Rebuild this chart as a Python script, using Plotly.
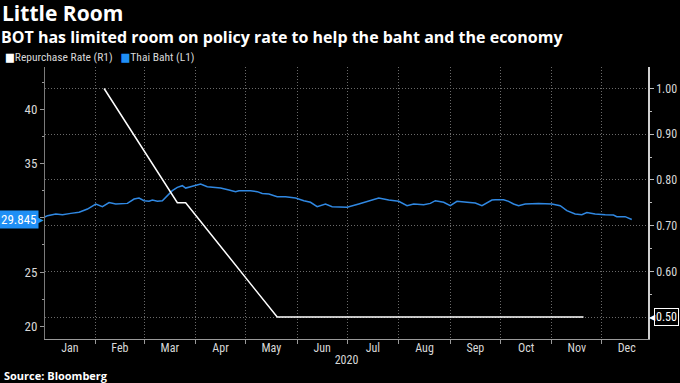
import plotly.graph_objects as go

# ---------------- data ----------------
baht_dates = [
    "2020-01-01", "2020-01-03", "2020-01-08", "2020-01-12", "2020-01-17", "2020-01-22",
    "2020-01-27", "2020-02-01", "2020-02-05", "2020-02-09", "2020-02-13", "2020-02-20",
    "2020-02-24", "2020-02-27", "2020-03-01", "2020-03-04", "2020-03-06", "2020-03-09",
    "2020-03-12", "2020-03-15", "2020-03-18", "2020-03-21", "2020-03-24", "2020-03-26",
    "2020-03-29", "2020-03-31", "2020-04-04", "2020-04-08", "2020-04-12", "2020-04-16",
    "2020-04-21", "2020-04-25", "2020-04-27", "2020-05-04", "2020-05-08", "2020-05-11",
    "2020-05-15", "2020-05-20", "2020-05-25", "2020-05-31", "2020-06-05", "2020-06-09",
    "2020-06-13", "2020-06-18", "2020-06-22", "2020-06-28", "2020-07-01", "2020-07-08",
    "2020-07-14", "2020-07-20", "2020-07-26", "2020-08-01", "2020-08-06", "2020-08-10",
    "2020-08-16", "2020-08-20", "2020-08-23", "2020-08-28", "2020-09-01", "2020-09-05",
    "2020-09-11", "2020-09-16", "2020-09-20", "2020-09-26", "2020-09-28", "2020-10-03",
    "2020-10-06", "2020-10-09", "2020-10-12", "2020-10-16", "2020-10-24", "2020-11-01",
    "2020-11-06", "2020-11-10", "2020-11-15", "2020-11-19", "2020-11-22", "2020-11-27",
    "2020-12-03", "2020-12-08", "2020-12-10", "2020-12-15", "2020-12-19",
]
baht_values = [
    30.05, 30.20, 30.35, 30.29, 30.41, 30.51,
    30.81, 31.27, 31.03, 31.40, 31.27, 31.33,
    31.73, 31.82, 31.58, 31.52, 31.64, 31.52,
    31.58, 32.04, 32.50, 32.81, 32.96, 32.74,
    32.87, 32.96, 33.11, 32.87, 32.81, 32.74,
    32.56, 32.41, 32.50, 32.50, 32.41, 32.25,
    32.19, 31.95, 31.95, 31.82, 31.58, 31.43,
    31.03, 31.27, 31.03, 30.97, 30.97, 31.27,
    31.52, 31.82, 31.64, 31.52, 31.12, 31.27,
    31.21, 31.33, 31.58, 31.43, 31.12, 31.52,
    31.43, 31.36, 31.12, 31.64, 31.67, 31.67,
    31.52, 31.27, 31.12, 31.27, 31.33, 31.27,
    31.12, 30.66, 30.35, 30.29, 30.48, 30.35,
    30.29, 30.26, 30.11, 30.11, 29.845,
]
repo_dates = ["2020-02-06", "2020-03-21", "2020-03-26", "2020-05-20", "2020-11-20"]
repo_values = [1.00, 0.75, 0.75, 0.50, 0.50]

left_tickvals = [20, 25, 30, 35, 40]
left_ticktext = ["20", "25", "", "35", "40"]
right_tickvals = [0.5, 0.6, 0.7, 0.8, 0.9, 1.0]
right_ticktext = ["", "0.60", "0.70", "0.80", "0.90", "1.00"]

last_baht = baht_values[-1]
last_repo = repo_values[-1]

# ---------------- style ----------------
BG = "#000000"
BLUE_LINE = "#3088e2"
BLUE_LABEL = "#1f8ff5"
TXT = "#d8d8d8"
GRID = "#6a6a6a"
FONT = "Roboto Condensed, DejaVu Sans Condensed, Roboto, sans-serif"
HEAD = "Open Sans, Roboto, sans-serif"

fig = go.Figure()
fig.add_trace(go.Scatter(
    x=baht_dates, y=baht_values, mode="lines", yaxis="y",
    line=dict(color=BLUE_LINE, width=1.5), showlegend=False, hoverinfo="skip",
))
fig.add_trace(go.Scatter(
    x=repo_dates, y=repo_values, mode="lines", yaxis="y2",
    line=dict(color="#ffffff", width=1.5), showlegend=False, hoverinfo="skip",
))

fig.update_layout(
    width=680, height=383,
    paper_bgcolor=BG, plot_bgcolor=BG,
    margin=dict(l=45, r=32, t=67, b=44, autoexpand=False),
    font=dict(family=FONT, color=TXT, size=12),
    xaxis=dict(
        range=["2020-01-01 12:00", "2020-12-28 18:00"],
        type="date", tick0="2020-01-01", dtick="M1", tickformat="%b",
        ticklabelmode="period", ticklabelstandoff=-6,
        showgrid=True, gridcolor=GRID, griddash="1px,2px", gridwidth=1,
        showline=True, linecolor="#9a9a9a", linewidth=1,
        ticks="outside", ticklen=4, tickcolor="#9a9a9a",
        tickfont=dict(size=12, color=TXT),
        title=dict(text="2020", font=dict(size=12, color=TXT), standoff=1),
        zeroline=False, automargin=False,
    ),
    yaxis=dict(
        range=[18.84, 43.89],
        tickvals=left_tickvals, ticktext=left_ticktext,
        showgrid=False, zeroline=False,
        showline=True, linecolor="#7a7a7a", linewidth=1,
        ticks="outside", ticklen=4, tickcolor="#9a9a9a",
        tickfont=dict(size=13, color=TXT), automargin=False,
        minor=dict(tick0=20, dtick=2.5, ticks="outside", ticklen=2, tickcolor="#9a9a9a", showgrid=False),
    ),
    yaxis2=dict(
        range=[0.452, 1.047], overlaying="y", side="right",
        tickvals=right_tickvals, ticktext=right_ticktext,
        showgrid=True, gridcolor=GRID, griddash="1px,2px", gridwidth=1,
        zeroline=False,
        showline=True, linecolor="#d0d0d0", linewidth=1.5,
        ticks="outside", ticklen=4, tickcolor="#bbbbbb",
        tickfont=dict(size=12, color=TXT), automargin=False,
        minor=dict(tick0=0.5, dtick=0.05, ticks="outside", ticklen=2, tickcolor="#bbbbbb", showgrid=False),
    ),
)

ann = []
# title & subtitle
ann.append(dict(text="<b>Little Room</b>", xref="paper", yref="paper", x=0, xshift=-44,
                y=1.1967, xanchor="left", yanchor="middle", showarrow=False, borderpad=0,
                font=dict(family=HEAD, size=21, color="#ffffff")))
ann.append(dict(text="<b>BOT has limited room on policy rate to help the baht and the economy</b>",
                xref="paper", yref="paper", x=0, xshift=-45, y=1.1121, xanchor="left", yanchor="middle",
                showarrow=False, borderpad=0, font=dict(family=HEAD, size=16, color="#ffffff")))
# legend
ann.append(dict(text=("<span style='color:#ffffff'>■</span>Repurchase Rate (R1)   "
                      f"<span style='color:{BLUE_LABEL}'>■</span>Thai Baht (L1)"),
                xref="paper", yref="paper", x=0, xshift=-42, y=1.037, xanchor="left", yanchor="middle",
                showarrow=False, font=dict(size=11.5, color=TXT)))
# source
ann.append(dict(text="<b>Source: Bloomberg</b>", xref="paper", yref="paper", x=0, xshift=-43,
                y=-0.136, xanchor="left", yanchor="middle", showarrow=False,
                font=dict(family=HEAD, size=11, color="#ffffff")))
# last value labels
ann.append(dict(text=f"{last_baht:.3f}", xref="paper", yref="y", x=0, xshift=-6, y=last_baht,
                xanchor="right", yanchor="middle", showarrow=False, bgcolor=BLUE_LABEL,
                borderpad=1, font=dict(size=13, color="#ffffff")))
ann.append(dict(text="▶", xref="paper", yref="y", x=0, xshift=1, y=last_baht,
                xanchor="right", yanchor="middle", showarrow=False,
                font=dict(family="DejaVu Sans", size=10, color=BLUE_LABEL)))
ann.append(dict(text=f"{last_repo:.2f}", xref="paper", yref="y2", x=1, xshift=6, y=last_repo,
                xanchor="left", yanchor="middle", showarrow=False, bgcolor="#000000",
                bordercolor="#ffffff", borderwidth=1, borderpad=1, font=dict(size=12, color="#ffffff")))
ann.append(dict(text="◀", xref="paper", yref="y2", x=1, xshift=-1, y=last_repo,
                xanchor="left", yanchor="middle", showarrow=False,
                font=dict(family="DejaVu Sans", size=8, color="#ffffff")))
fig.update_layout(annotations=ann)

fig.write_html("out.html", config={"displayModeBar": False},
               post_script="document.body.style.margin='0';document.body.style.overflow='hidden';")
